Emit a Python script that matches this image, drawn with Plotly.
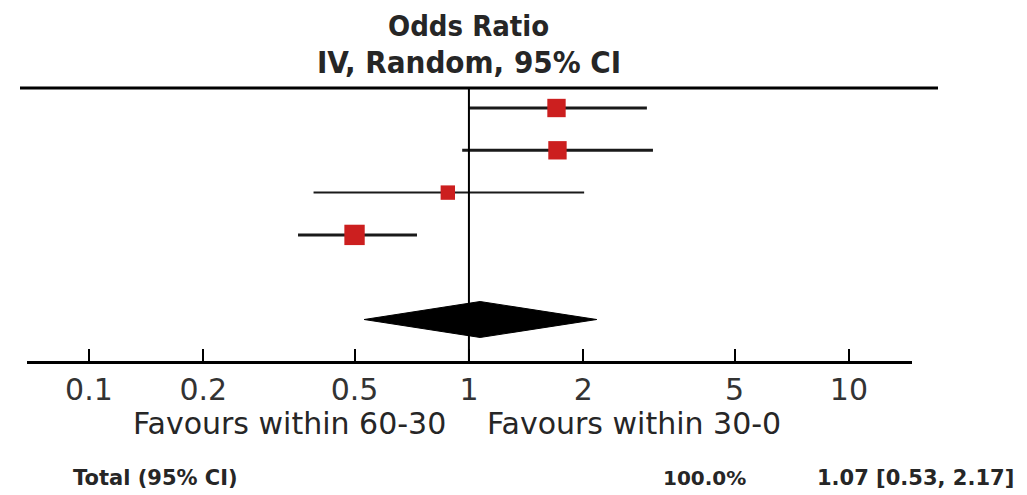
import math
import plotly.graph_objects as go

# ---- data ----
or_est = [1.70, 1.71, 0.88, 0.50]
ci_low = [1.00, 0.96, 0.39, 0.355]
ci_high = [2.94, 3.05, 2.01, 0.73]
weights = [26.0, 26.0, 16.0, 32.0]
total_or = 1.07
total_lo = 0.53
total_hi = 2.17
total_weight_label = "100.0%"
total_label = "1.07 [0.53, 2.17]"
tick_vals = [0.1, 0.2, 0.5, 1, 2, 5, 10]
tick_text = ["0.1", "0.2", "0.5", "1", "2", "5", "10"]
title_lines = ["Odds Ratio", "IV, Random, 95% CI"]
favours_left = "Favours within 60-30"
favours_right = "Favours within 30-0"
total_name = "Total (95% CI)"

W, H = 1027, 495
OFF = 8  # browser body margin


def px(xp):
    return (xp - OFF) / W


def py(yp):
    return 1 - (yp - OFF) / H


COND = "DejaVu Sans Condensed"
REG = "DejaVu Sans"
TXT = "#262626"
RED = "#cc1f1f"

fig = go.Figure()

rows = [i + 1 for i in range(len(or_est))]
for r, est, lo, hi, w in zip(rows, or_est, ci_low, ci_high, weights):
    fig.add_trace(go.Scatter(
        x=[lo, hi], y=[r, r], mode="lines",
        line=dict(color="#1a1a1a", width=2 if w < 20 else 3),
        hoverinfo="skip", showlegend=False))
fig.add_trace(go.Scatter(
    x=or_est, y=rows, mode="markers",
    marker=dict(symbol="square", color=RED, opacity=1,
                size=[3.6 * (w ** 0.5) for w in weights],
                line=dict(width=0)),
    showlegend=False))

total_row = len(or_est) + 2
h = 0.425
fig.add_trace(go.Scatter(
    x=[total_lo, total_or, total_hi, total_or, total_lo],
    y=[total_row, total_row - h, total_row, total_row + h, total_row],
    mode="lines", fill="toself", fillcolor="black",
    line=dict(color="black", width=1), showlegend=False))

row_px = 42.3
top_row_px = 108 - OFF
y_top = 1 - top_row_px / row_px
y_bot = 1 + (H - top_row_px) / row_px

fig.update_layout(
    width=W, height=H, autosize=False,
    margin=dict(l=0, r=0, t=0, b=0),
    paper_bgcolor="white", plot_bgcolor="white",
    font=dict(family=REG, color=TXT),
    xaxis=dict(type="log", range=[-1.163, 1.166],
               domain=[px(27), px(912)],
               anchor="free", position=py(362),
               showline=True, linecolor="black", linewidth=3,
               ticks="inside", ticklen=12, tickwidth=1.5, tickcolor="black",
               tickvals=tick_vals, ticktext=tick_text,
               tickfont=dict(family=REG, size=30, color="#333333"),
               showgrid=False, zeroline=False),
    yaxis=dict(range=[y_bot, y_top], visible=False, domain=[0, 1]),
)

# line of no effect and header rule
fig.add_shape(type="line", xref="x", yref="paper", x0=1, x1=1,
              y0=py(88), y1=py(362), line=dict(color="black", width=2))
fig.add_shape(type="line", xref="paper", yref="paper", x0=px(20), x1=px(938),
              y0=py(88), y1=py(88), line=dict(color="black", width=3))

x_null = math.log10(1)

# header
fig.add_annotation(x=x_null, xref="x", y=py(26), yref="paper",
                   xanchor="center", yanchor="middle",
                   text="<b>%s</b>" % title_lines[0], borderpad=0,
                   showarrow=False, font=dict(size=29, family=COND, color=TXT))
fig.add_annotation(x=x_null, xref="x", y=py(62), yref="paper",
                   xanchor="center", yanchor="middle",
                   text="<b>%s</b>" % title_lines[1], borderpad=0,
                   showarrow=False, font=dict(size=31, family=COND, color=TXT))

# favours labels
fig.add_annotation(x=px(448), xref="paper", y=py(423), yref="paper", text=favours_left,
                   xanchor="right", yanchor="middle", showarrow=False,
                   font=dict(size=30, family=REG, color=TXT))
fig.add_annotation(x=px(485), xref="paper", y=py(423), yref="paper", text=favours_right,
                   xanchor="left", yanchor="middle", showarrow=False,
                   font=dict(size=30, family=REG, color=TXT))

# total row
fig.add_annotation(x=px(71), xref="paper", y=py(478), yref="paper", text="<b>%s</b>" % total_name,
                   xanchor="left", yanchor="middle", showarrow=False,
                   font=dict(size=21, family=REG, color=TXT))
fig.add_annotation(x=px(748), xref="paper", y=py(478), yref="paper", text="<b>%s</b>" % total_weight_label,
                   xanchor="right", yanchor="middle", showarrow=False,
                   font=dict(size=20, family=REG, color=TXT))
fig.add_annotation(x=px(1016), xref="paper", y=py(478), yref="paper", text="<b>%s</b>" % total_label,
                   xanchor="right", yanchor="middle", showarrow=False,
                   font=dict(size=21, family=REG, color=TXT))

fig.write_html("out.html")
